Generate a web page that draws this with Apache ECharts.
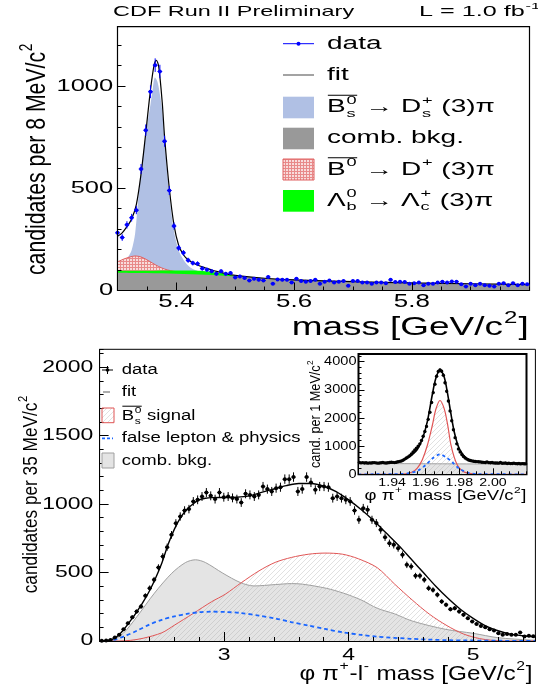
<!DOCTYPE html>
<html><head><meta charset="utf-8">
<script src="https://cdn.jsdelivr.net/npm/echarts@6.0.0/dist/echarts.min.js"></script>
<style>html,body{margin:0;padding:0;background:#fff;}#c{width:538px;height:691px;}</style>
</head><body><div id="c"></div>
<script>
// ================= DATA =================
// --- top panel: Bs -> Ds(3)pi mass ---
const topBinStart = 5.300, topBinWidth = 0.008;
const topData = [282,259,321,356,393,594,784,972,1102,1071,
  730,489,315,208,184,148,134,131,108,102,
  94,82,94,82,85,64,69,61,49,57,
  52,49,66,33,54,52,52,39,57,46,
  43,46,52,33,43,49,39,43,46,23,
  47,46,39,39,33,39,39,36,52,41,
  43,41,33,36,39,26,33,33,39,43,
  39,44,43,30,20,33,26,33,26,23,
  20,33,36,26,36,26,33,30];
const topFitX = [5.300,5.308,5.316,5.324,5.332,5.340,5.348,5.356,5.362,5.366,5.370,5.376,5.380,5.388,5.396,5.404,5.412,5.420,5.430,5.440,5.450,5.460,5.470,5.480,5.500,5.550,5.600,5.700,5.800,5.900,6.000];
const topFitY = [265,282,312,350,420,570,770,980,1100,1126,1095,920,750,500,320,220,175,150,132,120,110,100,92,85,74,60,52,43,37,33,29];
const topBsX = [5.300,5.310,5.318,5.324,5.330,5.335,5.341,5.348,5.352,5.356,5.360,5.3636,5.368,5.372,5.376,5.380,5.388,5.396,5.404,5.412,5.420,5.428,5.436,5.445];
const topBsY = [100,130,164,197,280,440,607,760,840,910,990,1041,1020,960,880,730,470,290,195,150,122,105,97,90];
const topB0X = [5.300,5.310,5.320,5.330,5.340,5.350,5.360,5.370,5.380,5.390,5.400,5.410];
const topB0Y = [140,153,163,169,164,150,133,117,105,97,92,90];
const topLbX = [5.300,5.350,5.400,5.420,5.440,5.460,5.480,5.490,5.500,5.510];
const topLbY = [96,97,98,98,96,91,84,77,70,64];
const topCombX = [5.300,5.350,5.400,5.450,5.500,5.550,5.600,5.650,5.700,5.750,5.800,5.850,5.900,5.950,6.000];
const topCombY = [87,85,82,77,69,61,54,48,44,40,37,34,31,28,26];
const topYTicks = [0,500,1000];
const topXTicks = [5.4,5.6,5.8];

// --- bottom panel: phi pi l mass ---
const botBinStart = 2.0175, botBinWidth = 0.035;
const botData = [2,3,8,25,45,86,130,174,215,252,
  330,386,447,537,617,685,775,860,909,953,
  963,1019,1031,1055,1084,1060,1036,1084,1050,1055,
  1045,1036,1011,1075,1067,1055,1067,1128,1109,1092,
  1116,1123,1182,1182,1197,1092,1109,1197,1158,1104,
  1128,1128,1123,1043,1055,1043,1031,1019,953,885,
  970,958,885,861,812,758,714,702,678,629,
  556,544,476,476,447,386,373,337,288,264,
  232,240,215,191,166,142,125,110,101,86,
  76,57,45,52,45,45,62,33,38,35];
const botFitX = [2.00,2.05,2.10,2.15,2.20,2.25,2.30,2.35,2.40,2.45,2.50,2.55,2.60,2.65,2.70,2.75,2.80,2.85,2.90,3.00,3.10,3.20,3.30,3.40,3.50,3.60,3.70,3.80,3.90,4.00,4.10,4.20,4.30,4.40,4.50,4.60,4.70,4.80,4.90,5.00,5.10,5.20,5.30,5.40,5.50];
const botFitY = [0,2,12,40,90,150,215,285,365,460,570,705,815,900,960,1000,1030,1042,1047,1048,1050,1060,1085,1110,1135,1150,1150,1130,1090,1030,960,880,790,700,600,500,400,310,230,165,110,75,50,38,30];
const botCombX = [2.00,2.11,2.19,2.30,2.44,2.58,2.69,2.77,2.85,2.99,3.13,3.24,3.41,3.54,3.63,3.82,3.96,4.10,4.23,4.37,4.51,4.78,5.00,5.20,5.46,5.50];
const botCombY = [0,12,56,178,349,495,573,593,573,495,427,402,412,419,415,385,349,300,239,198,146,85,56,24,7,6];
const botSigX = [2.00,2.15,2.25,2.35,2.50,2.60,2.75,2.90,3.01,3.14,3.28,3.41,3.54,3.68,3.81,3.95,4.08,4.23,4.37,4.51,4.65,4.79,4.92,5.05,5.15,5.25,5.50];
const botSigY = [0,0,5,20,60,115,200,287,342,427,512,574,610,634,642,634,600,535,415,300,195,112,52,18,5,0,0];
const botFakeX = [2.00,2.05,2.10,2.20,2.30,2.40,2.50,2.60,2.70,2.80,2.90,3.01,3.13,3.28,3.41,3.54,3.68,3.81,3.96,4.10,4.23,4.50,4.80,5.20,5.50];
const botFakeY = [0,0,5,35,75,120,155,180,198,210,214,212,205,185,165,138,112,88,62,45,32,16,6,2,0];
const botYTicks = [0,500,1000,1500,2000];
const botXTicks = [3,4,5];

// --- inset: phi pi mass ---
const insBinStart = 1.9205, insBinWidth = 0.001;
const insData = [420,405,415,400,410,395,405,400,410,415,
  405,395,400,410,420,405,400,410,420,430,
  425,415,430,445,460,470,500,540,580,620,
  660,720,790,860,930,1000,1080,1200,1350,1520,
  1700,1950,2200,2550,2900,3200,3480,3650,3700,3660,
  3520,3250,2950,2600,2250,1900,1580,1300,1080,900,
  790,700,630,580,540,510,490,475,465,455,
  450,445,440,430,425,420,440,415,410,420,
  405,400,400,395,420,390,395,400,385,390,
  380,385,395,380,375,385,370,380,375,370];
const insFitX = [1.920,1.930,1.940,1.944,1.948,1.952,1.955,1.958,1.961,1.964,1.966,1.9685,1.971,1.973,1.975,1.977,1.979,1.981,1.984,1.988,1.993,2.000,2.010,2.020];
const insFitY = [408,405,410,440,540,700,880,1250,1880,2850,3400,3700,3450,2870,2150,1500,1060,800,580,475,435,412,395,380];
const insSigX = [1.920,1.944,1.948,1.952,1.955,1.958,1.961,1.964,1.966,1.9685,1.971,1.973,1.975,1.977,1.979,1.982,1.986,1.990,2.020];
const insSigY = [0,0,15,80,220,520,1030,1750,2300,2620,2330,1780,1050,600,310,110,30,0,0];
const insFakeX = [1.920,1.945,1.950,1.955,1.960,1.964,1.9685,1.972,1.976,1.980,1.985,1.990,2.020];
const insFakeY = [0,10,40,120,330,560,706,610,420,200,60,10,0];
const insCombX = [1.920,1.970,2.020];
const insCombY = [385,372,360];
const insYTicks = [0,1000,2000,3000,4000];
const insXTicks = [1.94,1.96,1.98,2.00];

// ================= HELPERS =================
const FAM = "'Liberation Sans', Arial, Helvetica, sans-serif";
const mctx = document.createElement('canvas').getContext('2d');
function tw(s, size){ mctx.font = size + 'px ' + FAM; return mctx.measureText(s).width; }
function txt(s, x, y, size, align, color){
  return {type:'text', x:x, y:y, z:100,
    style:{text:s, font:size+'px '+FAM, fill:color||'#000',
      textAlign:align||'left', textVerticalAlign:'middle', align:align||'left', verticalAlign:'middle'}};
}
function formula(parts, size){
  const kids=[]; let x=0; const ss=size*0.65;
  for (const p of parts){
    const w = tw(p.t, size);
    kids.push(txt(p.t, x, 0, size));
    let sw=0;
    if (p.sup){ kids.push(txt(p.sup, x+w+size*0.03, -size*0.38, ss)); sw=Math.max(sw, tw(p.sup, ss)); }
    if (p.sub){ kids.push(txt(p.sub, x+w+size*0.03, size*0.36, ss)); sw=Math.max(sw, tw(p.sub, ss)); }
    if (p.over){
      const ow = w + (p.sup ? sw+size*0.05 : 0);
      kids.push({type:'line', z:100, shape:{x1:x+size*0.03, y1:-size*0.70, x2:x+ow, y2:-size*0.70},
        style:{stroke:'#000', lineWidth:Math.max(1, size*0.055)}});
    }
    x += w + (sw ? sw + size*0.06 : 0);
  }
  return {kids:kids, width:x};
}
function place(f, x, y, sx, rot){ return {type:'group', x:x, y:y, scaleX:sx, rotation:rot||0, z:100, children:f.kids}; }
function simple(s, x, y, size, align, sx){ const t = txt(s, x, y, size, align); t.scaleX = sx; return t; }
function pat(w,h,fn){ const c=document.createElement('canvas'); c.width=w; c.height=h; fn(c.getContext('2d')); return c; }
const pairs = (xs, ys) => xs.map((x,i)=>[x, ys[i]]);

const redHatch = pat(3,3,g=>{ g.fillStyle='#f8dcdc'; g.fillRect(0,0,3,3); g.fillStyle='#e88a8a'; g.fillRect(0,0,3,1); g.fillRect(0,0,1,3); });
const diagHatch = pat(5,5,g=>{ g.strokeStyle='rgba(170,170,170,0.45)'; g.lineWidth=0.8; g.beginPath();
  g.moveTo(-1,6); g.lineTo(6,-1); g.moveTo(-1,1); g.lineTo(1,-1); g.moveTo(4,6); g.lineTo(6,4); g.stroke(); });

// ================= CHART =================
const chart = echarts.init(document.getElementById('c'), null, {renderer:'canvas', width:538, height:691});

const grids = [
  {left:117.5, top:26.7, width:412, height:263.8, show:true, borderColor:'#000', borderWidth:1.2, backgroundColor:'transparent', z:0},
  {left:99.6, top:349.3, width:435.8, height:291.7, show:true, borderColor:'#000', borderWidth:1, backgroundColor:'transparent', z:0},
  {left:358.5, top:354, width:168, height:120.3, show:true, borderColor:'#000', borderWidth:2, backgroundColor:'#fff', z:20}
];

function minorAx(grid, min, max, interval, len, pos, z){
  return {gridIndex:grid, type:'value', min:min, max:max, interval:interval, position:pos, z:z,
    axisLine:{show:true, onZero:false, lineStyle:{color:'#000', width:1}},
    axisTick:{show:true, inside:true, length:len, lineStyle:{color:'#000', width:1}},
    axisLabel:{show:false}, splitLine:{show:false}, minorTick:{show:false}};
}
function majorAx(grid, min, max, vals, len, pos, z){
  return {gridIndex:grid, type:'value', min:min, max:max, position:pos, z:z,
    axisLine:{show:false, onZero:false},
    axisTick:{show:true, inside:true, length:len, customValues:vals, lineStyle:{color:'#000', width:1}},
    axisLabel:{show:false, customValues:vals}, splitLine:{show:false}};
}

const xAxis = [
  minorAx(0, 5.3, 6.0, 0.05, 4, 'bottom', 10), majorAx(0, 5.3, 6.0, topXTicks, 8, 'bottom', 10),
  minorAx(1, 2.0, 5.5, 0.2, 4, 'bottom', 10), majorAx(1, 2.0, 5.5, botXTicks, 9, 'bottom', 10),
  minorAx(2, 1.92, 2.02, 0.005, 3, 'bottom', 30), majorAx(2, 1.92, 2.02, insXTicks, 6, 'bottom', 30)
];
const yAxis = [
  minorAx(0, 0, 1290, 100, 4, 'left', 10), majorAx(0, 0, 1290, topYTicks, 8, 'left', 10),
  minorAx(1, 0, 2130, 100, 4, 'left', 10), majorAx(1, 0, 2130, botYTicks, 9, 'left', 10),
  minorAx(2, 0, 4270, 200, 3, 'left', 30), majorAx(2, 0, 4270, insYTicks, 6, 'left', 30)
];

function area(xs, ys, ai, fill, line, z){
  return {type:'line', xAxisIndex:ai, yAxisIndex:ai, data:pairs(xs, ys), smooth:0.3, symbol:'none',
    lineStyle: line || {width:0, opacity:0}, areaStyle:{color:fill, opacity:1}, z:z, silent:true, clip:true};
}
function curve(xs, ys, ai, lineStyle, z){
  return {type:'line', xAxisIndex:ai, yAxisIndex:ai, data:pairs(xs, ys), smooth:0.3, symbol:'none',
    lineStyle:lineStyle, z:z, silent:true, clip:true};
}
function points(start, width, vals, ai, color, r, z){
  return {type:'custom', xAxisIndex:ai, yAxisIndex:ai, z:z, silent:true,
    data: vals.map((v,k)=>[start + width*k, v]),
    renderItem: function(params, api){
      const x = api.value(0), y = api.value(1);
      const e = Math.sqrt(Math.max(y,0));
      const p = api.coord([x, y]);
      const pu = api.coord([x, y+e]); const pd = api.coord([x, Math.max(y-e,0)]);
      const hw = api.size([width, 0])[0] / 2;
      return {type:'group', children:[
        {type:'line', shape:{x1:p[0], y1:pu[1], x2:p[0], y2:pd[1]}, style:{stroke:color, lineWidth:1}},
        {type:'line', shape:{x1:p[0]-hw, y1:p[1], x2:p[0]+hw, y2:p[1]}, style:{stroke:color, lineWidth:1}},
        {type:'circle', shape:{cx:p[0], cy:p[1], r:r}, style:{fill:color}}
      ]};
    }};
}

const series = [
  // top
  area(topBsX, topBsY, 0, '#b0c0e4', null, 2),
  area(topB0X, topB0Y, 0, {image:redHatch, repeat:'repeat'}, {color:'#e06060', width:1}, 3),
  area(topLbX, topLbY, 0, '#00ff00', null, 4),
  area(topCombX, topCombY, 0, '#999999', null, 5),
  curve(topFitX, topFitY, 0, {color:'#000', width:1.2}, 6),
  points(topBinStart, topBinWidth, topData, 0, '#0000ff', 2, 7),
  // bottom
  area(botCombX, botCombY, 2, '#e4e4e4', {color:'#a0a0a0', width:1}, 2),
  area(botSigX, botSigY, 2, {image:diagHatch, repeat:'repeat'}, {color:'#e05555', width:1}, 3),
  curve(botFakeX, botFakeY, 2, {color:'#1a66ff', width:1.8, type:[4,3]}, 4),
  curve(botFitX, botFitY, 2, {color:'#000', width:1.4}, 5),
  points(botBinStart, botBinWidth, botData, 2, '#000', 2, 6),
  // inset
  area(insCombX, insCombY, 4, '#e4e4e4', {color:'#a0a0a0', width:1}, 21),
  area(insSigX, insSigY, 4, {image:diagHatch, repeat:'repeat'}, {color:'#e05555', width:1.2}, 22),
  curve(insFakeX, insFakeY, 4, {color:'#1a66ff', width:1.8, type:[3,3]}, 23),
  curve(insFitX, insFitY, 4, {color:'#000', width:1.6}, 24),
  points(insBinStart, insBinWidth, insData, 4, '#000', 1.7, 25)
];

chart.setOption({animation:false, grid:grids, xAxis:xAxis, yAxis:yAxis, series:series});

// ================= TEXT / LEGENDS =================
const G = [];
const px = (ai, v) => chart.convertToPixel({xAxisIndex:ai}, v);
const py = (ai, v) => chart.convertToPixel({yAxisIndex:ai}, v);

// titles
G.push(simple('CDF Run II Preliminary', 113, 12.3, 14.4, 'left', 1.63));
(function(){
  const f = formula([{t:'L = 1.0 fb', sup:'-1'}], 14.4);
  G.push(place(f, 419, 12.3, 1.75));
})();

// top tick labels
topYTicks.forEach(v => G.push(simple(String(v), 113.2, py(0, v), 17, 'right', 1.5)));
topXTicks.forEach(v => G.push(simple(v.toFixed(1), px(0, v), 302, 17.5, 'center', 1.48)));
// top axis titles
(function(){
  const f = formula([{t:'mass [GeV/c', sup:'2'}, {t:']'}], 25.5);
  G.push(place(f, 291.7, 328, 237 / f.width));
  const g = formula([{t:'candidates per 8 MeV/c', sup:'2'}], 27);
  G.push(place(g, 37.5, 275, 232 / g.width, Math.PI/2));
})();

// top legend
(function(){
  const LX = 283, LW = 31, TX = 327, FS = 17.5, SX = 1.6;
  G.push({type:'line', z:100, shape:{x1:LX, y1:43.7, x2:LX+LW, y2:43.7}, style:{stroke:'#0000ff', lineWidth:1}});
  G.push({type:'circle', z:100, shape:{cx:LX+LW/2, cy:43.7, r:2}, style:{fill:'#0000ff'}});
  G.push(simple('data', TX, 43.7, FS, 'left', SX));
  G.push({type:'line', z:100, shape:{x1:LX, y1:75, x2:LX+LW, y2:75}, style:{stroke:'#666', lineWidth:1.2}});
  G.push(simple('fit', TX, 75, FS, 'left', SX));
  G.push({type:'rect', z:100, shape:{x:LX, y:96.7, width:LW, height:21.6}, style:{fill:'#b0c0e4'}});
  G.push(place(formula([{t:'B', over:true, sup:'0', sub:'s'}, {t:' → '}, {t:'D', sup:'+', sub:'s'}, {t:' (3)π'}], FS), TX, 107.5, SX));
  G.push({type:'rect', z:100, shape:{x:LX, y:127.7, width:LW, height:21.6}, style:{fill:'#999999'}});
  G.push(simple('comb. bkg.', TX, 138.5, FS, 'left', SX));
  G.push({type:'rect', z:100, shape:{x:LX, y:159, width:LW, height:21}, style:{fill:{image:redHatch, repeat:'repeat'}, stroke:'#e06060', lineWidth:1}});
  G.push(place(formula([{t:'B', over:true, sup:'0'}, {t:' → '}, {t:'D', sup:'+'}, {t:' (3)π'}], FS), TX, 170, SX));
  G.push({type:'rect', z:100, shape:{x:LX, y:190, width:LW, height:21.7}, style:{fill:'#00ff00'}});
  G.push(place(formula([{t:'Λ', sup:'0', sub:'b'}, {t:' → '}, {t:'Λ', sup:'+', sub:'c'}, {t:' (3)π'}], FS), TX, 201, SX));
})();

// bottom tick labels
botYTicks.forEach(v => G.push(simple(String(v), 93.3, py(2, v), 16.3, 'right', 1.41)));
botXTicks.forEach(v => G.push(simple(String(v), px(2, v), 655, 17, 'center', 1.35)));
(function(){
  const f = formula([{t:'φ π', sup:'+'}, {t:'-l', sup:'-'}, {t:' mass [GeV/c', sup:'2'}, {t:']'}], 20.5);
  G.push(place(f, 299.6, 674, 233 / f.width));
  const g = formula([{t:'candidates per 35 MeV/c', sup:'2'}], 21);
  G.push(place(g, 31.5, 593.3, 198 / g.width, Math.PI/2));
})();
// bottom legend
(function(){
  const TX = 121.8, FS = 14, SX = 1.32;
  G.push({type:'line', z:100, shape:{x1:102, y1:370, x2:113, y2:370}, style:{stroke:'#000', lineWidth:1}});
  G.push({type:'line', z:100, shape:{x1:107.5, y1:366, x2:107.5, y2:374}, style:{stroke:'#000', lineWidth:1}});
  G.push({type:'circle', z:100, shape:{cx:107.5, cy:370, r:1.8}, style:{fill:'#000'}});
  G.push(simple('data', TX, 370, FS, 'left', SX));
  G.push({type:'line', z:100, shape:{x1:103, y1:392, x2:110, y2:392}, style:{stroke:'#777', lineWidth:1.2}});
  G.push(simple('fit', TX, 391.7, FS, 'left', SX));
  G.push({type:'rect', z:100, shape:{x:102, y:408, width:12, height:14.7}, style:{fill:{image:diagHatch, repeat:'repeat'}, stroke:'#e05555', lineWidth:1}});
  G.push(place(formula([{t:'B', over:true, sup:'0', sub:'s'}, {t:' signal'}], FS), TX, 416, SX));
  G.push({type:'line', z:100, shape:{x1:102, y1:438.3, x2:113, y2:438.3}, style:{stroke:'#1a66ff', lineWidth:1.8, lineDash:[3,2]}});
  G.push(simple('false lepton & physics', TX, 438.3, FS, 'left', SX));
  G.push({type:'rect', z:100, shape:{x:102, y:453, width:12, height:15}, style:{fill:'#e4e4e4', stroke:'#a0a0a0', lineWidth:1}});
  G.push(simple('comb. bkg.', TX, 461, FS, 'left', SX));
})();

// inset labels
insYTicks.forEach(v => G.push(simple(String(v), 356.5, py(4, v), 13, 'right', 1.12)));
insXTicks.forEach(v => G.push(simple(v.toFixed(2), px(4, v), 482.7, 11.5, 'center', 1.23)));
(function(){
  const f = formula([{t:'φ π', sup:'+'}, {t:' mass [GeV/c', sup:'2'}, {t:']'}], 14);
  G.push(place(f, 364.5, 496, 162 / f.width));
  const g = formula([{t:'cand. per 1 MeV/c', sup:'2'}], 15);
  G.push(place(g, 316, 468, 108 / g.width, Math.PI/2));
})();

chart.setOption({graphic:{elements:G}});
</script></body></html>
